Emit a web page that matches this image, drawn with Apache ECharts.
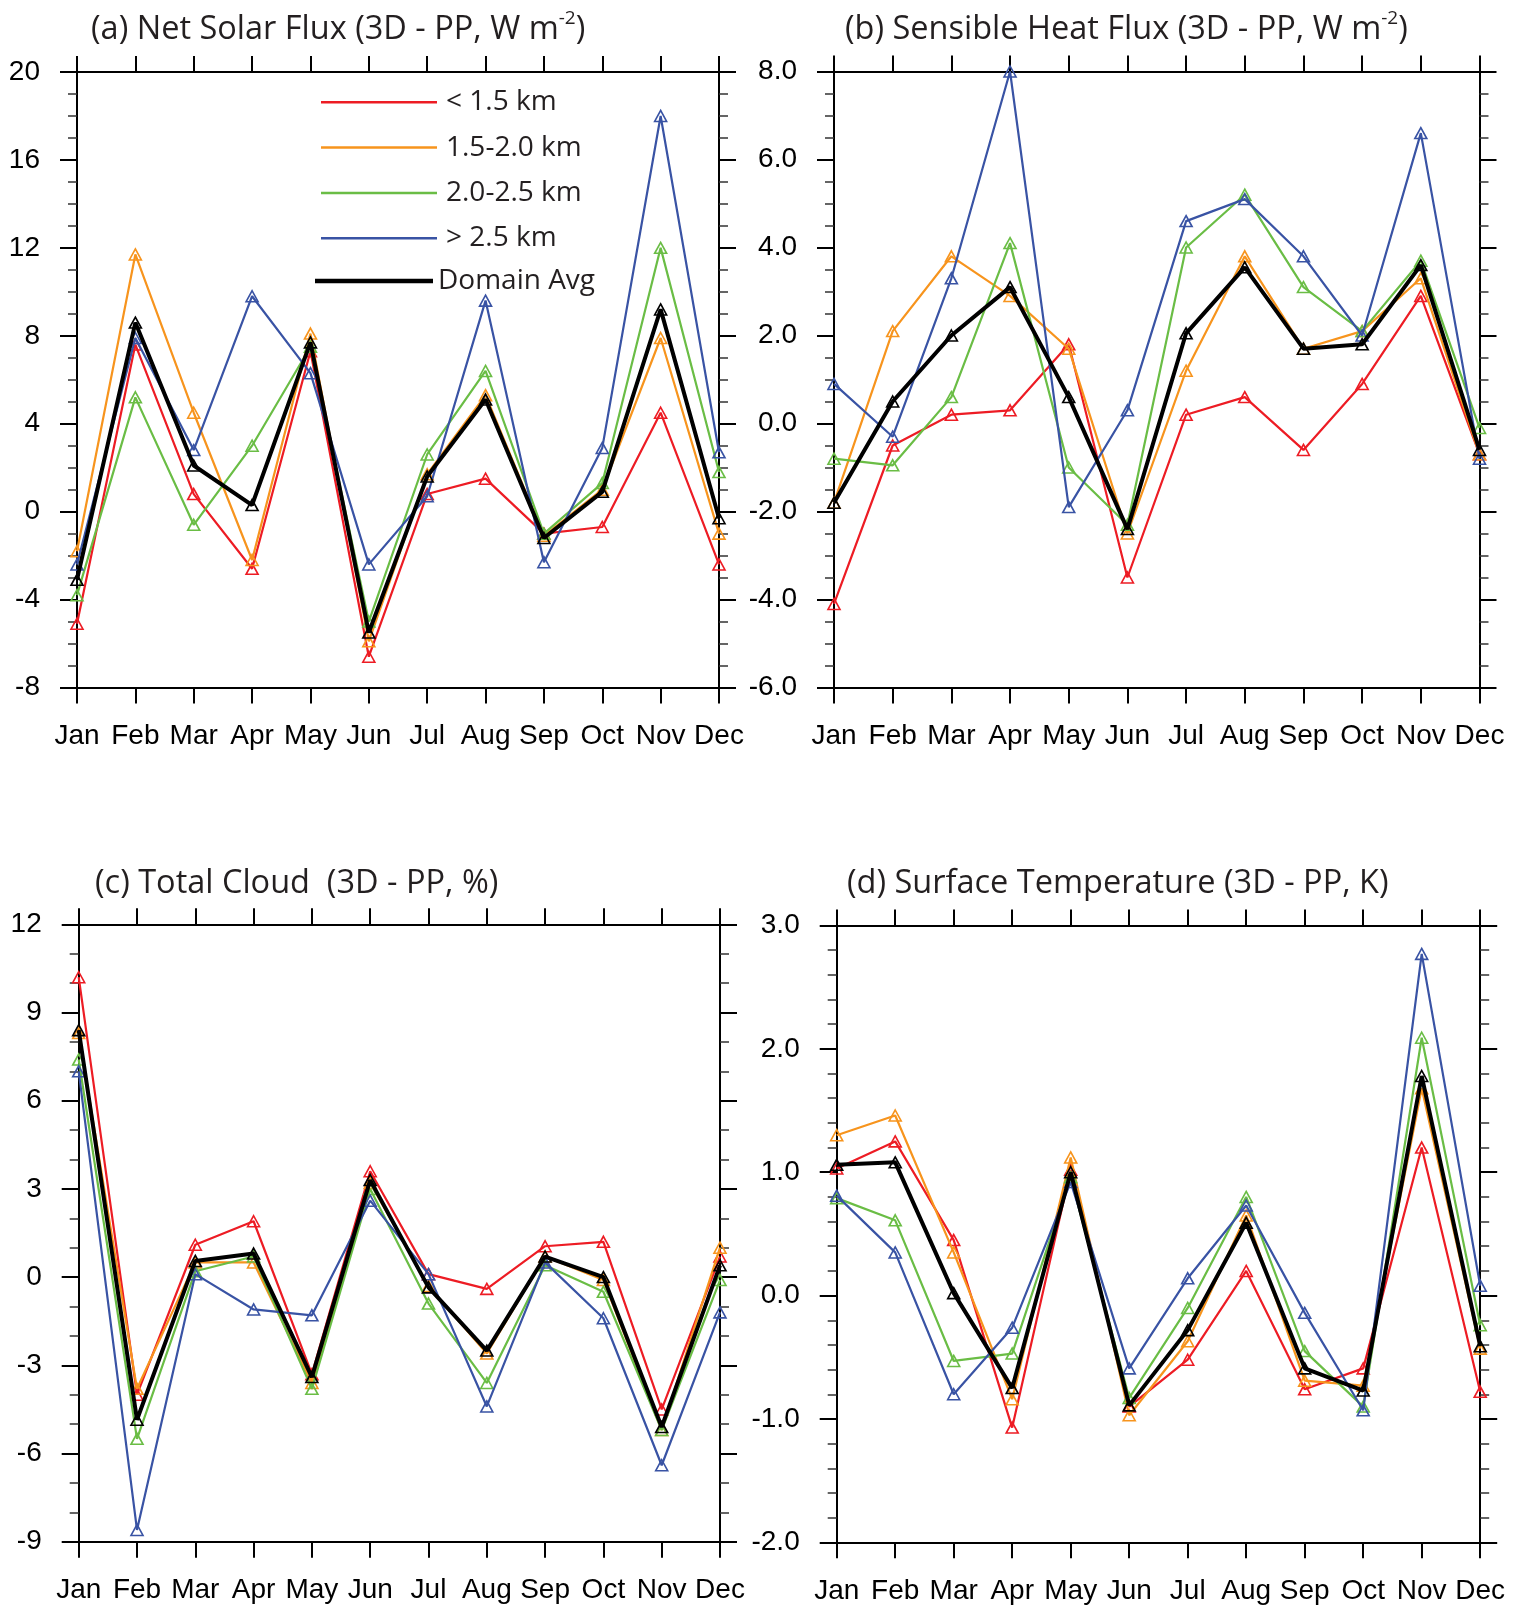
<!DOCTYPE html>
<html>
<head>
<meta charset="utf-8">
<script src="https://cdn.jsdelivr.net/npm/echarts@6/dist/echarts.min.js"></script>
<style>
  html, body { margin: 0; background: #fff; }
  #chart { width: 1525px; height: 1608px; }
</style>
</head>
<body>
<div id="chart"></div>
<script>
const months = ['Jan', 'Feb', 'Mar', 'Apr', 'May', 'Jun', 'Jul', 'Aug', 'Sep', 'Oct', 'Nov', 'Dec']
const bandNames = ['< 1.5 km', '1.5-2.0 km', '2.0-2.5 km', '> 2.5 km', 'Domain Avg']
const bandColors = ['#ed1c24', '#f7941d', '#6abd45', '#3953a4', '#000000']

// (a) net solar flux, W m-2
const solarLow = [-5.1, 7.6, 0.8, -2.6, 7.3, -6.6, 0.8, 1.5, -1.0, -0.7, 4.5, -2.4]
const solarMid = [-1.8, 11.7, 4.5, -2.2, 8.1, -5.9, 1.7, 5.3, -1.1, 1.0, 7.9, -1.0]
const solarHigh = [-3.8, 5.2, -0.6, 3.0, 7.5, -5.0, 2.6, 6.4, -1.0, 1.3, 12.0, 1.8]
const solarTop = [-2.4, 7.9, 2.8, 9.8, 6.3, -2.4, 0.7, 9.6, -2.3, 2.9, 18.0, 2.7]
const solarAvg = [-3.1, 8.6, 2.1, 0.3, 7.7, -5.5, 1.6, 5.1, -1.2, 0.9, 9.2, -0.3]

// (b) sensible heat flux, W m-2
const heatLow = [-4.1, -0.5, 0.2, 0.3, 1.8, -3.5, 0.2, 0.6, -0.6, 0.9, 2.9, -0.7]
const heatMid = [-1.8, 2.1, 3.8, 2.9, 1.7, -2.5, 1.2, 3.8, 1.7, 2.1, 3.3, -0.7]
const heatHigh = [-0.8, -0.95, 0.6, 4.1, -1.0, -2.3, 4.0, 5.2, 3.1, 2.1, 3.7, -0.1]
const heatTop = [0.9, -0.3, 3.3, 8.0, -1.9, 0.3, 4.6, 5.1, 3.8, 2.0, 6.6, -0.8]
const heatAvg = [-1.8, 0.5, 2.0, 3.1, 0.6, -2.4, 2.05, 3.55, 1.7, 1.8, 3.6, -0.6]

// (c) total cloud, %
const cloudLow = [10.2, -4.0, 1.1, 1.9, -3.3, 3.6, 0.1, -0.4, 1.05, 1.2, -4.5, 0.7]
const cloudMid = [8.3, -3.8, 0.5, 0.5, -3.6, 3.2, -0.3, -2.6, 0.7, -0.1, -5.2, 1.0]
const cloudHigh = [7.4, -5.5, 0.2, 0.7, -3.8, 3.0, -0.9, -3.6, 0.4, -0.5, -5.2, -0.1]
const cloudTop = [7.0, -8.6, 0.1, -1.1, -1.3, 2.6, 0.1, -4.4, 0.5, -1.4, -6.4, -1.2]
const cloudAvg = [8.4, -4.85, 0.55, 0.8, -3.4, 3.3, -0.35, -2.5, 0.7, 0.0, -5.1, 0.4]

// (d) surface temperature, K
const tempLow = [1.03, 1.25, 0.45, -1.07, 1.02, -0.9, -0.52, 0.2, -0.76, -0.59, 1.2, -0.78]
const tempMid = [1.3, 1.46, 0.35, -0.84, 1.12, -0.97, -0.37, 0.65, -0.69, -0.73, 1.68, -0.43]
const tempHigh = [0.79, 0.61, -0.53, -0.47, 0.96, -0.83, -0.1, 0.8, -0.45, -0.9, 2.09, -0.24]
const tempTop = [0.81, 0.35, -0.8, -0.26, 0.92, -0.59, 0.14, 0.73, -0.14, -0.93, 2.77, 0.08]
const tempAvg = [1.06, 1.08, 0.02, -0.75, 1.0, -0.89, -0.28, 0.59, -0.59, -0.77, 1.78, -0.41]

const panels = [
  { title: '(a) Net Solar Flux (3D - PP, W m{sup|-2})', titleLeft: 86, titleTop: 4,
    grid: { left: 77, top: 72, width: 642, height: 615.5 },
    min: -8, max: 20, step: 4, minor: 4, digits: 0,
    data: [solarLow, solarMid, solarHigh, solarTop, solarAvg] },
  { title: '(b) Sensible Heat Flux (3D - PP, W m{sup|-2})', titleLeft: 840, titleTop: 4,
    grid: { left: 834, top: 71.5, width: 645.5, height: 616 },
    min: -6, max: 8, step: 2, minor: 4, digits: 1,
    data: [heatLow, heatMid, heatHigh, heatTop, heatAvg] },
  { title: '(c) Total Cloud  (3D - PP, %)', titleLeft: 90, titleTop: 858,
    grid: { left: 78.7, top: 924.3, width: 641.3, height: 617.4 },
    min: -9, max: 12, step: 3, minor: 3, digits: 0,
    data: [cloudLow, cloudMid, cloudHigh, cloudTop, cloudAvg] },
  { title: '(d) Surface Temperature (3D - PP, K)', titleLeft: 842, titleTop: 858,
    grid: { left: 836.7, top: 925.5, width: 643.5, height: 616.8 },
    min: -2, max: 3, step: 1, minor: 5, digits: 1,
    data: [tempLow, tempMid, tempHigh, tempTop, tempAvg] }
]

const textFont = '"Open Sans", "Noto Sans", sans-serif'
const tickFont = '"Liberation Sans", Arial, sans-serif'
const frame = { color: '#000', width: 2 }

let titles = []
let grids = []
let xAxes = []
let yAxes = []
let series = []

panels.forEach((p, g) => {
  titles.push({
    text: p.title,
    left: p.titleLeft,
    top: p.titleTop,
    textStyle: {
      fontFamily: textFont, fontSize: 32.5, fontWeight: 'normal', color: '#231f20', lineHeight: 42,
      rich: { sup: { fontFamily: textFont, fontSize: 19, color: '#231f20', verticalAlign: 'top', lineHeight: 24 } }
    }
  })
  grids.push(p.grid)
  // bottom and top category axes
  ;['bottom', 'top'].forEach(pos => {
    xAxes.push({
      type: 'category', gridIndex: g, position: pos, data: months, boundaryGap: false,
      axisLine: { onZero: false, lineStyle: frame },
      axisTick: { show: true, inside: false, interval: 0, length: 16, lineStyle: { color: '#000', width: 2 } },
      axisLabel: { show: pos === 'bottom', interval: 0, margin: 35, fontFamily: tickFont, fontSize: 28, color: '#000' },
      splitLine: { show: false }
    })
  })
  // left and right value axes
  ;['left', 'right'].forEach(pos => {
    yAxes.push({
      type: 'value', gridIndex: g, position: pos, min: p.min, max: p.max, interval: p.step,
      axisLine: { show: true, onZero: false, lineStyle: frame },
      axisTick: { show: true, inside: false, length: 17, lineStyle: { color: '#000', width: 2 } },
      minorTick: { show: true, splitNumber: p.minor, length: 9, lineStyle: { color: '#333', width: 1.5 } },
      axisLabel: {
        show: pos === 'left', margin: 37, fontFamily: tickFont, fontSize: 28, color: '#000',
        formatter: v => v.toFixed(p.digits)
      },
      splitLine: { show: false }
    })
  })
  p.data.forEach((vals, k) => {
    const isAvg = k === 4
    series.push({
      name: bandNames[k],
      type: 'line',
      xAxisIndex: 2 * g,
      yAxisIndex: 2 * g,
      data: vals,
      symbol: 'triangle',
      symbolSize: [12, 11],
      z: 2 + k,
      lineStyle: { color: bandColors[k], width: isAvg ? 4 : 2.2 },
      itemStyle: { color: 'rgba(0,0,0,0)', borderColor: bandColors[k], borderWidth: 1.6 },
      emphasis: { disabled: true },
      animation: false
    })
  })
})

const chart = echarts.init(document.getElementById('chart'))
chart.setOption({
  backgroundColor: '#fff',
  animation: false,
  title: titles,
  grid: grids,
  xAxis: xAxes,
  yAxis: yAxes,
  legend: [
    {
      orient: 'vertical', left: 321, top: 87.3, padding: 0,
      itemWidth: 116, itemHeight: 2.5, itemGap: 15.3, icon: 'rect',
      selectedMode: false,
      data: bandNames.slice(0, 4).map((n, k) => ({ name: n, itemStyle: { color: bandColors[k], borderWidth: 0 } })),
      textStyle: { fontFamily: textFont, fontSize: 28, color: '#231f20', lineHeight: 30, padding: [0, 0, 0, 4] }
    },
    {
      orient: 'vertical', left: 315, top: 266, padding: 0,
      itemWidth: 118, itemHeight: 4.5, icon: 'rect',
      selectedMode: false,
      data: [{ name: bandNames[4], itemStyle: { color: bandColors[4], borderWidth: 0 } }],
      textStyle: { fontFamily: textFont, fontSize: 28, color: '#231f20', lineHeight: 30 }
    }
  ],
  series: series
})
</script>
</body>
</html>
